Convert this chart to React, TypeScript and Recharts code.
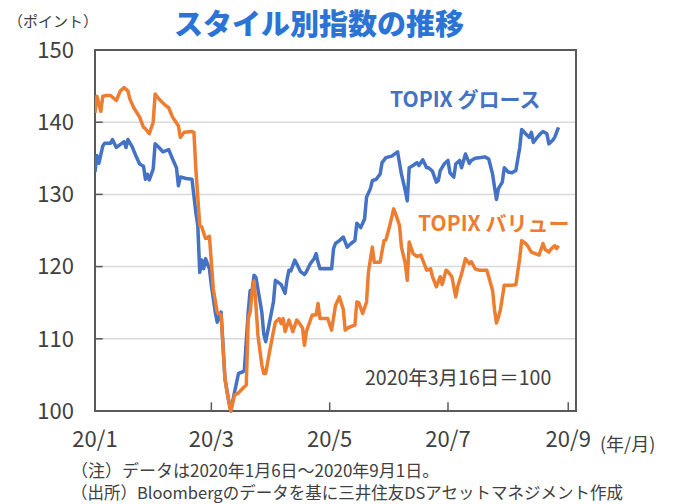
import { LineChart, Line, XAxis, YAxis, CartesianGrid, ReferenceArea, ReferenceLine } from "recharts";

const FONT = "'Noto Sans CJK JP', 'Noto Sans', sans-serif";
const BLUE = "#4472C4";
const ORANGE = "#ED7D31";
const AXIS = "#595959";
const TEXT = "#404040";

// days counted from 2020-01-06
const growthDays = [
  0, 1, 2, 4, 5, 8, 9, 11, 14, 15, 16, 17, 19, 21, 23, 25, 26, 27, 28, 30,
  31, 33, 35, 38, 40, 42, 43, 44, 47, 50, 52, 53, 54, 55, 56, 57, 59, 60, 62, 63,
  65, 67, 69, 70, 72, 74, 76, 77, 79, 80, 81, 82, 83, 84, 86, 87, 88, 90, 92, 93,
  95, 96, 98, 99, 100, 101, 103, 104, 106, 108, 109, 111, 113, 114, 115, 116, 122, 123, 124, 126,
  128, 130, 132, 134, 135, 137, 139, 140, 142, 143, 145, 147, 148, 150, 153, 156, 158, 160, 161, 162,
  164, 166, 167, 169, 171, 172, 174, 176, 177, 178, 180, 182, 183, 185, 186, 188, 189, 191, 193, 194,
  196, 199, 201, 203, 205, 206, 207, 208, 210, 211, 213, 215, 217, 219, 220, 222, 224, 225, 226, 228,
  230, 231, 233, 234, 236, 237, 238, 239,
];
const growthValues = [
  133.1, 135.4, 134.3, 136.7, 137.1, 137.1, 137.6, 136.5, 137.1, 137.3, 136.5, 137.6, 136.7, 135.4, 134.2, 133.9, 132.1, 132.8, 132.0, 133.5,
  137.0, 136.5, 135.9, 136.2, 134.9, 133.7, 131.2, 132.4, 132.2, 132.1, 127.5, 125.7, 119.2, 120.9, 119.7, 121.1, 119.7, 117.4, 113.7, 112.3,
  113.7, 104.5, 101.3, 100.0, 102.7, 105.2, 105.4, 105.6, 113.7, 116.7, 116.7, 118.8, 118.5, 116.9, 113.7, 110.7, 109.6, 112.3, 115.1, 118.1,
  117.7, 117.5, 116.3, 118.2, 119.5, 119.4, 120.9, 120.4, 119.3, 118.9, 119.3, 120.4, 121.1, 121.8, 120.6, 119.7, 119.7, 122.5, 123.2, 123.6,
  124.1, 122.7, 123.2, 123.6, 126.0, 125.4, 126.6, 129.6, 130.8, 131.9, 132.1, 132.8, 134.4, 135.1, 135.3, 135.9, 132.8, 130.5, 129.1, 133.7,
  134.0, 134.4, 134.0, 134.8, 133.7, 133.7, 133.2, 131.7, 131.9, 133.3, 134.2, 134.7, 133.0, 132.4, 134.2, 134.7, 133.7, 135.6, 134.3, 134.7,
  135.0, 135.1, 135.2, 134.9, 132.8, 131.0, 129.3, 130.8, 131.7, 133.7, 133.1, 133.0, 133.3, 136.5, 139.0, 138.4, 137.9, 138.6, 137.2, 137.9,
  138.5, 138.7, 138.4, 137.0, 137.5, 137.9, 138.6, 139.3,
];

const valueDays = [
  0, 1, 3, 4, 6, 8, 11, 13, 15, 17, 18, 20, 23, 25, 26, 28, 30, 31, 33, 36,
  38, 40, 43, 44, 46, 50, 51, 52, 54, 55, 57, 59, 60, 61, 63, 65, 67, 68, 70, 72,
  74, 76, 78, 79, 80, 81, 82, 83, 84, 86, 87, 88, 90, 92, 93, 95, 96, 97, 98, 100,
  101, 102, 104, 105, 107, 108, 109, 110, 112, 114, 115, 116, 120, 122, 124, 126, 128, 129, 131, 134,
  135, 136, 138, 140, 141, 143, 144, 147, 149, 150, 152, 154, 155, 157, 158, 160, 161, 162, 164, 166,
  168, 170, 171, 173, 174, 176, 178, 179, 181, 182, 184, 186, 187, 189, 191, 193, 194, 196, 198, 202,
  203, 205, 206, 207, 208, 209, 211, 214, 217, 219, 220, 222, 223, 225, 226, 229, 231, 232, 234, 235,
  237, 238, 239,
];
const valueValues = [
  141.3, 143.6, 141.5, 143.6, 143.7, 143.7, 143.0, 144.3, 144.8, 144.3, 143.2, 142.0, 140.7, 139.3, 139.1, 138.4, 140.0, 143.9, 143.2, 142.4,
  142.0, 140.7, 139.5, 137.9, 138.6, 138.7, 138.6, 133.5, 125.7, 125.5, 123.9, 124.2, 120.6, 116.9, 113.7, 113.3, 104.5, 102.7, 100.0, 102.2,
  102.5, 103.1, 103.6, 112.8, 113.7, 116.5, 118.0, 114.6, 110.5, 106.4, 105.2, 105.2, 108.2, 111.0, 112.3, 112.8, 112.1, 112.8, 111.0, 112.6,
  111.8, 111.0, 112.6, 112.3, 111.5, 109.1, 111.0, 111.8, 113.3, 113.3, 114.9, 112.8, 112.8, 111.2, 114.6, 115.8, 114.1, 111.2, 111.6, 111.9,
  115.1, 115.0, 113.5, 115.1, 119.3, 122.7, 120.6, 120.6, 123.6, 123.7, 125.7, 128.0, 127.3, 125.7, 122.7, 120.4, 118.1, 123.4, 121.8, 121.4,
  121.6, 120.2, 119.5, 119.7, 118.6, 117.2, 118.6, 117.5, 119.5, 119.3, 118.6, 115.8, 117.2, 119.0, 121.1, 120.4, 120.7, 119.7, 119.5, 119.5,
  118.6, 116.7, 114.0, 112.2, 113.0, 114.0, 117.4, 117.4, 117.5, 121.2, 123.6, 123.2, 122.9, 122.0, 121.9, 121.6, 123.2, 122.4, 122.0, 122.4,
  122.9, 122.5, 122.9,
];

const xTickDays = [0, 60, 121, 182, 244];
const xTickLabels = ["20/1", "20/3", "20/5", "20/7", "20/9"];
const yTicks = [100, 110, 120, 130, 140, 150];

const growthData = growthDays.map((day, i) => ({ day, v: growthValues[i] }));
const valueData = valueDays.map((day, i) => ({ day, v: valueValues[i] }));

const Txt = ({ x, cy, size, color = TEXT, weight = 400, children }: any) => (
  <div style={{
    position: "absolute", left: x, top: cy - size / 2, fontSize: size, lineHeight: `${size}px`,
    fontFamily: FONT, fontWeight: weight, color, whiteSpace: "nowrap",
  }}>{children}</div>
);

export default function App() {
  return (
    <div style={{ position: "relative", width: 676, height: 504, background: "#fff" }}>
      <style>{`body{margin:0}`}</style>
      <LineChart width={676} height={504} margin={{ top: 50, right: 100, bottom: 53, left: 0 }}>
        <CartesianGrid vertical={false} stroke="#d9d9d9" strokeWidth={1.5} />
        <XAxis
          type="number" dataKey="day" domain={[0, 248]} ticks={xTickDays} allowDataOverflow
          tickFormatter={(d) => xTickLabels[xTickDays.indexOf(d)] ?? ""}
          axisLine={false} tickLine={false} tickMargin={14} height={40}
          tick={{ fontSize: 22, fill: TEXT, fontFamily: FONT }}
        />
        <YAxis
          domain={[100, 150]} ticks={yTicks} width={95} axisLine={false} tickLine={false} tickMargin={15}
          tick={{ fontSize: 22, fill: TEXT, fontFamily: FONT }}
        />
        {yTicks.slice(1, -1).map((t) => (
          <ReferenceLine key={"y" + t} segment={[{ x: 0, y: t }, { x: 4, y: t }]} stroke={AXIS} strokeWidth={1.5} />
        ))}
        {xTickDays.slice(1).map((t) => (
          <ReferenceLine key={"x" + t} segment={[{ x: t, y: 100 }, { x: t, y: 101.2 }]} stroke={AXIS} strokeWidth={1.5} />
        ))}
        <ReferenceArea x1={0} x2={248} y1={100} y2={150} fill="none" stroke={AXIS} strokeWidth={2} />
        <Line data={growthData} dataKey="v" stroke={BLUE} strokeWidth={3.5} dot={false} isAnimationActive={false} strokeLinejoin="round" />
        <Line data={valueData} dataKey="v" stroke={ORANGE} strokeWidth={3.5} dot={false} isAnimationActive={false} strokeLinejoin="round" />
      </LineChart>

      <Txt x={174} cy={22} size={29} color="#2B74D6" weight={900}>スタイル別指数の推移</Txt>
      <Txt x={8} cy={20} size={15}>（ポイント）</Txt>
      <Txt x={390} cy={98} size={21} color={BLUE} weight={700}>TOPIX グロース</Txt>
      <Txt x={418} cy={222} size={21} color={ORANGE} weight={700}>TOPIX バリュー</Txt>
      <Txt x={365} cy={377} size={19.5}>2020年3月16日＝100</Txt>
      <Txt x={600} cy={443} size={18}>(年/月)</Txt>
      <Txt x={71} cy={469} size={17}>（注）データは2020年1月6日～2020年9月1日。</Txt>
      <Txt x={71} cy={492} size={16.5}>（出所）Bloombergのデータを基に三井住友DSアセットマネジメント作成</Txt>
    </div>
  );
}
